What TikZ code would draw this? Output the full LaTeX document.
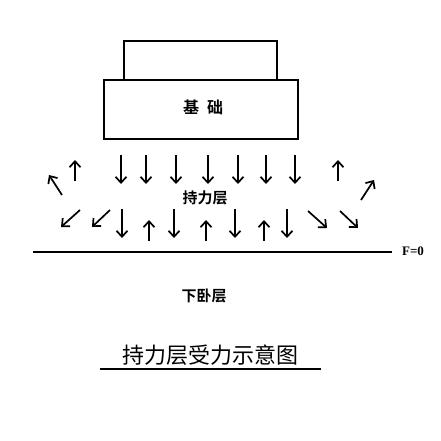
\documentclass[tikz,border=0pt]{standalone}
\usepackage{fontspec}
\newfontfamily\cjk{Noto Sans CJK SC}
\newfontfamily\cjkb{Noto Sans CJK SC Bold}
\newfontfamily\serifb{Liberation Serif}
\usetikzlibrary{arrows.meta}
\begin{document}
\begin{tikzpicture}[x=1pt,y=1pt,
  box/.style={draw,line width=1.6pt},
  fa/.style={line width=1.7pt,-{Straight Barb[length=6pt,width=11pt,line width=1.7pt]}},
  lab/.style={font=\cjkb\fontsize{15}{15}\selectfont,inner sep=0pt}]
\useasboundingbox (0,-440) rectangle (441,0);
\fill[white] (0,-440) rectangle (441,0);
% foundation
\draw[box] (124,-41) rectangle (277,-80);
\draw[box] (104,-80) rectangle (298,-139);
\node[lab,font=\cjkb\fontsize{16}{16}\selectfont] (jc) at (203,-107) {基\hspace{0.5em}础};
% row 1 down arrows
\foreach \i/\x in {1/121,2/146,3/176,4/208,5/238,6/266,7/295}{
  \coordinate (a\i) at (\x,-155); \coordinate (b\i) at (\x,-184);
  \draw[fa] (a\i) -- (b\i);}
% row 1 up arrows
\coordinate (u1s) at (75,-181); \coordinate (u1e) at (75,-160);
\draw[fa] (u1s) -- (u1e);
\coordinate (u2s) at (338,-181); \coordinate (u2e) at (338,-160);
\draw[fa] (u2s) -- (u2e);
% diagonal up
\coordinate (d1s) at (62,-195); \coordinate (d1e) at (49,-175);
\draw[fa] (d1s) -- (d1e);
\coordinate (d2s) at (361,-200); \coordinate (d2e) at (374,-180);
\draw[fa] (d2s) -- (d2e);
\node[lab] (cl) at (205,-198) {持力层};
% row 2
\coordinate (l1s) at (80,-210); \coordinate (l1e) at (61,-227);
\draw[fa] (l1s) -- (l1e);
\coordinate (l2s) at (110,-210); \coordinate (l2e) at (92,-227);
\draw[fa] (l2s) -- (l2e);
\foreach \i/\x in {1/122,2/174,3/235,4/287}{
  \coordinate (c\i) at (\x,-209); \coordinate (e\i) at (\x,-238);
  \draw[fa] (c\i) -- (e\i);}
\foreach \i/\x in {1/149,2/206,3/264}{
  \coordinate (f\i) at (\x,-241); \coordinate (g\i) at (\x,-220);
  \draw[fa] (f\i) -- (g\i);}
\coordinate (r1s) at (308,-211); \coordinate (r1e) at (327,-228);
\draw[fa] (r1s) -- (r1e);
\coordinate (r2s) at (340,-211); \coordinate (r2e) at (358,-228);
\draw[fa] (r2s) -- (r2e);
% boundary line
\coordinate (hl) at (33,-252); \coordinate (hr) at (392,-252);
\draw[line width=1.2pt] (hl) -- (hr);
\node[inner sep=0pt,font=\serifb\bfseries\fontsize{13}{13}\selectfont] (f0) at (413,-251) {F=0};
\node[lab] (xw) at (204,-296) {下卧层};
% title
\node[inner sep=0pt,font=\cjk\fontsize{22}{22}\selectfont] (tt) at (210,-355) {持力层受力示意图};
\coordinate (ul) at (100,-369); \coordinate (ur) at (321,-369);
\draw[line width=1.3pt] (ul) -- (ur);
\end{tikzpicture}
\end{document}
